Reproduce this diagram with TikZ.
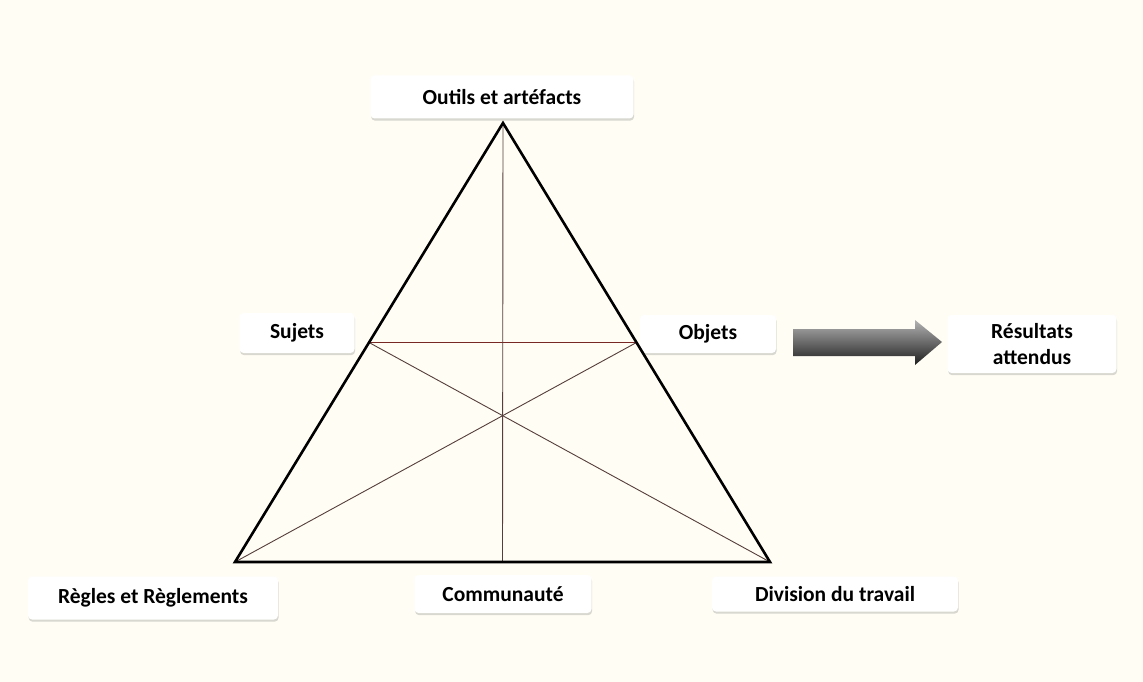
\documentclass[tikz,border=0pt]{standalone}
\usepackage{fontspec}
\setmainfont{Carlito}
\usepackage{xcolor}
\usepackage{tikz}
\usetikzlibrary{shadows,calc}
\definecolor{creme}{RGB}{255,253,244}
\definecolor{brique}{RGB}{120,40,36}
\definecolor{brungris}{RGB}{85,62,60}

\begin{document}
\begin{tikzpicture}[x=1pt,y=-1pt,
  etiquette/.style={fill=white,rounded corners=4pt,inner sep=0pt,align=center,
    font=\fontsize{21.5}{26}\selectfont\bfseries,
    drop shadow={shadow xshift=0.6pt,shadow yshift=-2.2pt,opacity=0.25,fill=black!60}},
  cote/.style={line width=2.6pt,line join=miter},
  trait/.style={line width=0.9pt,brungris}]
  \fill[creme] (0,0) rectangle (1143,682);
  \useasboundingbox (0,0) rectangle (1143,682);
  % labels
  \node[etiquette,minimum width=263,minimum height=43] (outils) at (502,97) {Outils et artéfacts};
  \node[etiquette,minimum width=115,minimum height=40] (sujets) at (297,333) {Sujets};
  \node[etiquette,minimum width=136,minimum height=38] (objets) at (708,334) {Objets};
  \node[etiquette,minimum width=169,minimum height=58] (resultats) at (1032,344) {Résultats\\attendus};
  \node[etiquette,minimum width=250,minimum height=43] (regles) at (153,598) {Règles et Règlements};
  \node[etiquette,minimum width=177,minimum height=38] (communaute) at (503,594) {Communauté};
  \node[etiquette,minimum width=246,minimum height=35] (division) at (835,594) {Division du travail};
  % triangle
  \coordinate (sommet) at (503,123);
  \coordinate (bg) at (235,562);
  \coordinate (bd) at (770,562);
  \coordinate (ms) at ($(sommet)!0.5!(bg)$);
  \coordinate (mo) at ($(sommet)!0.5!(bd)$);
  \coordinate (mb) at ($(bg)!0.5!(bd)$);
  \draw[trait,brique] (ms) -- (mo);
  \foreach \a/\b in {ms/bd,mo/bg,sommet/mb}
    \draw[trait] (\a) -- (\b);
  \draw[cote] (sommet) -- (bg) -- (bd) -- cycle;
  % arrow
  \coordinate (fleche) at (793,342);
  \shade[top color=black!30,bottom color=black!88]
    (fleche) ++(0,-13) -- ++(122,0) -- ++(0,-9) -- ++(27,22) -- ++(-27,23)
    -- ++(0,-9) -- ++(-122,0) -- cycle;
\end{tikzpicture}
\end{document}
